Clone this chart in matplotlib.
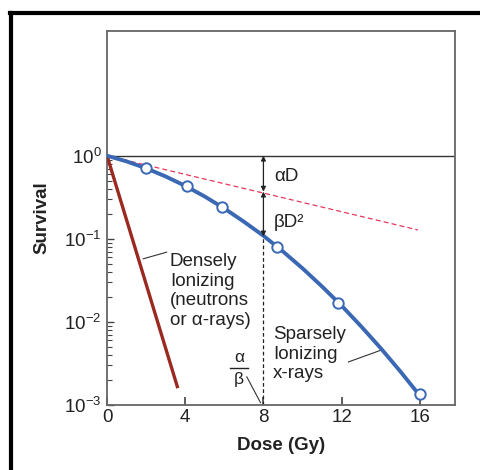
import matplotlib
matplotlib.use("Agg")
import matplotlib.pyplot as plt
from matplotlib.lines import Line2D
from matplotlib.ticker import FixedLocator

plt.rcParams["font.family"] = ["Liberation Sans", "DejaVu Sans"]
plt.rcParams["mathtext.fontset"] = "custom"
plt.rcParams["mathtext.rm"] = "Liberation Sans"
plt.rcParams["mathtext.it"] = "Liberation Sans:italic"
plt.rcParams["mathtext.bf"] = "Liberation Sans:bold"

# sparsely ionizing (x-rays) curve
xray_dose = [0, 1, 2, 3, 4, 5, 6, 7, 8, 9, 10, 11, 12, 13, 14, 15, 16]
xray_surv = [1.0, 0.855, 0.706, 0.563, 0.434, 0.323, 0.232, 0.161, 0.109,
             0.0705, 0.0442, 0.0267, 0.0157, 0.00885, 0.00484, 0.00255, 0.0013]
# measured points (open circles)
pts_dose = [2.0, 4.1, 5.9, 8.7, 11.8, 16.0]
pts_surv = [0.71, 0.43, 0.245, 0.079, 0.0168, 0.00135]
# densely ionizing (neutrons / alpha) line
dense_dose = [0, 3.62]
dense_surv = [1.0, 0.0016]
# alpha-only component (dashed)
alpha_dose = [0, 15.9]
alpha_surv = [1.0, 0.128]

ytick_vals = [1e-3, 1e-2, 1e-1, 1]
ytick_labels = ["10$^{-3}$", "10$^{-2}$", "10$^{-1}$", "10$^{0}$"]
xtick_vals = [0, 4, 8, 12, 16]

text_col = "#222222"
blue = "#3a68b4"
brown = "#9a2a20"

fig = plt.figure(figsize=(4.81, 4.70), dpi=100)
ax = fig.add_axes([0.2225, 0.138, 0.7235, 0.796])

ax.set_yscale("log")
ax.set_xlim(0, 17.8)
ax.set_ylim(1e-3, 10 ** 1.5)

ax.axhline(1, color="#333333", lw=1.0, zorder=1)

ax.plot(alpha_dose, alpha_surv, color="#e8375a", lw=0.9, ls=(0, (4, 2.5)), zorder=2)
ax.plot(dense_dose, dense_surv, color=brown, lw=2.4, solid_capstyle="butt", zorder=3)
ax.plot(xray_dose, xray_surv, color=blue, lw=2.8, zorder=3)
ax.plot(pts_dose, pts_surv, ls="none", marker="o", ms=7.5, mfc="white",
        mec=blue, mew=1.4, zorder=4)

# alpha/beta crossover at D = 8
ax.plot([8, 8], [1e-3, 0.107], color="#222222", lw=0.9, ls=(0, (3, 2)), zorder=2)
arr = dict(arrowstyle="<|-|>", color="#222222", lw=0.9, mutation_scale=7,
           shrinkA=0, shrinkB=0)
ax.annotate("", xy=(8, 1.0), xytext=(8, 0.37), arrowprops=arr)
ax.annotate("", xy=(8, 0.37), xytext=(8, 0.107), arrowprops=arr)

fs = 13.5
ax.text(8.55, 10 ** -0.25, "αD", fontsize=fs, color=text_col, va="center")
ax.text(8.55, 10 ** -0.80, "βD²", fontsize=fs, color=text_col, va="center")

ax.text(3.22, 10 ** -1.17, "Densely\nIonizing\n(neutrons\nor α-rays)", fontsize=fs,
        color=text_col, va="top", linespacing=1.2)
ax.plot([1.85, 3.05], [10 ** -1.24, 10 ** -1.16], color="#333333", lw=0.8)

ax.text(8.5, 10 ** -2.05, "Sparsely\nIonizing\nx-rays", fontsize=fs,
        color=text_col, va="top", linespacing=1.2)
ax.plot([12.35, 14.0], [10 ** -2.48, 10 ** -2.34], color="#333333", lw=0.8)

ax.text(6.75, 10 ** -2.43, "α", fontsize=fs - 1, color=text_col, ha="center", va="center")
ax.plot([6.3, 7.2], [10 ** -2.55, 10 ** -2.55], color="#222222", lw=1.0)
ax.text(6.75, 10 ** -2.69, "β", fontsize=fs - 1, color=text_col, ha="center", va="center")
ax.plot([7.15, 7.85], [10 ** -2.66, 10 ** -2.97], color="#333333", lw=0.8)

ax.set_xticks(xtick_vals)
ax.set_xticklabels([str(v) for v in xtick_vals])
ax.set_yticks(ytick_vals)
ax.set_yticklabels(ytick_labels)
# minor ticks only below 10^0
ax.yaxis.set_minor_locator(FixedLocator(
    [m * d for d in (1e-3, 1e-2, 1e-1) for m in range(2, 10)]))
ax.tick_params(axis="x", which="major", direction="in", length=6, width=1.2,
               color="#444444", labelsize=fs, labelcolor=text_col, pad=3)
ax.tick_params(axis="y", which="major", direction="in", length=5, width=1.0,
               color="#444444", labelsize=fs, labelcolor=text_col, pad=4)
ax.tick_params(axis="y", which="minor", direction="in", length=3.5, width=0.8,
               color="#444444")
ax.tick_params(axis="x", which="minor", length=0)

for s in ax.spines.values():
    s.set_color("#666666")
    s.set_linewidth(1.3)

ax.set_xlabel("Dose (Gy)", fontsize=fs, fontweight="bold", color=text_col, labelpad=8)
ax.set_ylabel("Survival", fontsize=fs, fontweight="bold", color=text_col, labelpad=10)

# black frame around the figure (top and left)
fig.add_artist(Line2D([0.021, 1.0], [0.972, 0.972], color="black", lw=3.0,
                      transform=fig.transFigure))
fig.add_artist(Line2D([0.023, 0.023], [0.0, 0.972], color="black", lw=3.0,
                      transform=fig.transFigure))

fig.savefig("out.png", dpi=100)
